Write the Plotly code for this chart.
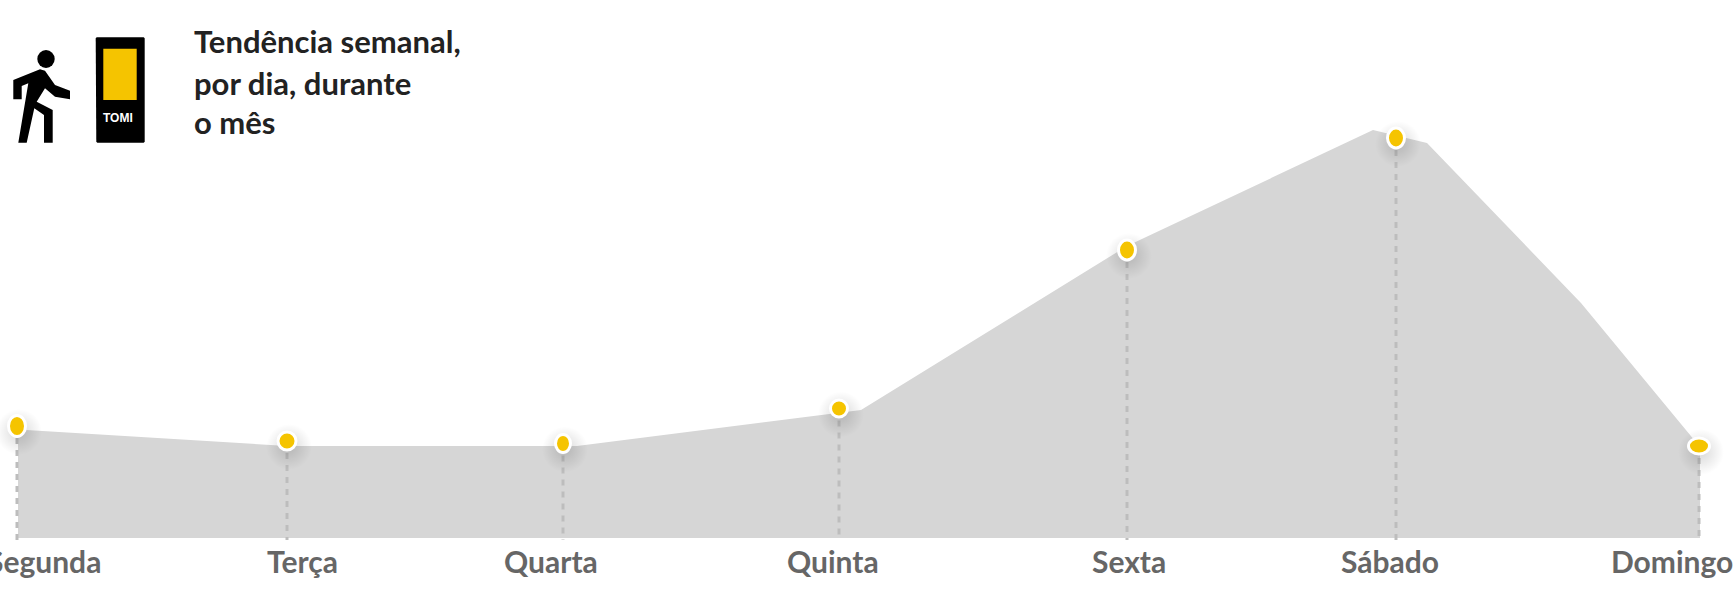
import plotly.graph_objects as go

PAGE_W, PAGE_H, BASE = 1736, 599, 538

days = ["Segunda", "Terça", "Quarta", "Quinta", "Sexta", "Sábado", "Domingo"]
label_x = [44, 302, 551, 833, 1129, 1390, 1672]

area_x = [18, 287, 577, 861, 1127, 1373, 1427, 1581, 1700]
area_y = [108.5, 92, 92, 128, 292, 408, 395, 235, 91]

point_x = [17, 287, 563, 839, 1127, 1396, 1699]
point_y = [112, 97, 94.5, 129.5, 288, 400, 92]
point_w = [14, 15, 12, 14, 14, 14, 18]
point_h = [18, 15, 15, 14, 17, 17, 13]

title_lines = ["Tendência semanal,", "por dia, durante", "o mês"]
title_py = [41, 83, 122]

FONT = "Lato, 'Noto Sans', sans-serif"

fig = go.Figure()
fig.add_trace(go.Scatter(x=area_x, y=area_y, mode="lines", fill="tozeroy",
                         fillcolor="#d6d6d6", line=dict(width=0), hoverinfo="skip"))
for x, y in zip(point_x, point_y):
    fig.add_trace(go.Scatter(x=[x, x], y=[y, -2], mode="lines",
                             line=dict(color="#bdbdbd", width=3, dash="6px 6px"), hoverinfo="skip"))
fig.add_trace(go.Scatter(x=[x + 2 for x in point_x], y=[y - 6 for y in point_y], mode="markers",
                         marker=dict(size=46, color="rgba(0,0,0,0)", line=dict(width=0),
                                     gradient=dict(type="radial", color="rgba(0,0,0,0.15)")),
                         hoverinfo="skip"))
fig.add_trace(go.Scatter(x=point_x, y=point_y, mode="markers",
                         marker=dict(size=[min(w, h) for w, h in zip(point_w, point_h)], color="#f5c400",
                                     line=dict(width=0)), name="Tendência"))

shapes = []
for x, y, w, h in zip(point_x, point_y, point_w, point_h):
    shapes.append(dict(type="circle", xref="x", yref="y", xsizemode="pixel", ysizemode="pixel",
                       xanchor=x, yanchor=y, x0=-w / 2 - 1.5, x1=w / 2 + 1.5, y0=-h / 2 - 1.5, y1=h / 2 + 1.5,
                       fillcolor="#f5c400", line=dict(color="white", width=3)))


def path(points):
    return "M " + " L ".join(f"{x / 3:.1f},{BASE - y / 3:.1f}" for x, y in points) + " Z"


person = [(40, 240), (120, 208), (135, 212), (165, 255), (210, 272), (210, 298), (165, 290), (135, 265),
          (110, 305), (158, 330), (158, 428), (132, 428), (132, 345), (103, 325), (80, 428), (55, 428),
          (85, 250), (65, 258), (65, 298), (40, 298)]
device = [(290, 112), (431, 112), (434, 115), (434, 425), (431, 428), (292, 428), (289, 425), (287, 115)]
screen = [(310, 146), (410, 146), (410, 300), (310, 300)]
shapes += [
    dict(type="path", xref="x", yref="y", path=path(person), fillcolor="#000", line=dict(width=0)),
    dict(type="circle", xref="x", yref="y", x0=37.3, x1=54.7, y0=BASE - 68, y1=BASE - 50,
         fillcolor="#000", line=dict(width=0)),
    dict(type="path", xref="x", yref="y", path=path(device), fillcolor="#000", line=dict(width=0)),
    dict(type="path", xref="x", yref="y", path=path(screen), fillcolor="#f5c400", line=dict(width=0)),
]

ann = [dict(x=192, y=BASE - py, xref="x", yref="y", text=t, showarrow=False, xanchor="left", yanchor="middle",
            font=dict(family=FONT, size=31, color="#222222", weight="bold"))
       for t, py in zip(title_lines, title_py)]
ann.append(dict(x=118, y=BASE - 118, xref="x", yref="y", text="TOMI", showarrow=False,
                font=dict(family="Liberation Sans", size=12, color="white", weight="bold")))
ann += [dict(x=x, y=BASE - 561, xref="x", yref="y", text=d, showarrow=False, xanchor="center", yanchor="middle",
             font=dict(family=FONT, size=30, color="#666666", weight="bold"))
        for x, d in zip(label_x, days)]

fig.update_layout(
    width=PAGE_W, height=PAGE_H, margin=dict(l=0, r=0, t=0, b=0), autosize=False,
    paper_bgcolor="white", plot_bgcolor="white", showlegend=False, shapes=shapes, annotations=ann,
    xaxis=dict(range=[0, PAGE_W], showgrid=False, zeroline=False, showline=False, showticklabels=False),
    yaxis=dict(range=[BASE - PAGE_H, BASE], showgrid=False, zeroline=False, showline=False, showticklabels=False),
)
fig.write_html("out.html", config={"displayModeBar": False},
               post_script="document.body.style.margin='0';document.documentElement.style.overflow='hidden';")
